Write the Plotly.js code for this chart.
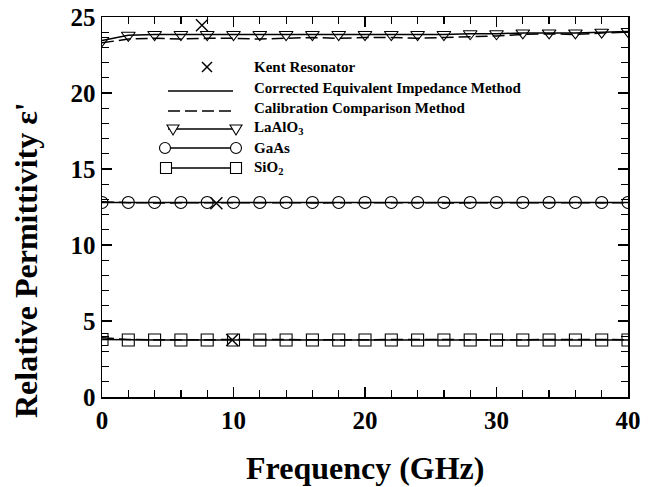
<!DOCTYPE html>
<html>
<head>
<meta charset="utf-8">
<script src="https://cdn.plot.ly/plotly-3.0.1.min.js"></script>
<style>html,body{margin:0;padding:0;background:#fff;}#chart{width:655px;height:487px;}</style>
</head>
<body>
<div id="chart"></div>
<script>
// Frequency points (GHz)
const freq = [0, 2, 4, 6, 8, 10, 12, 14, 16, 18, 20, 22, 24, 26, 28, 30, 32, 34, 36, 38, 40];
// LaAlO3
const laoCEM = [23.45, 23.8, 23.85, 23.85, 23.85, 23.85, 23.85, 23.85, 23.85, 23.85, 23.85, 23.85, 23.85, 23.85, 23.9, 23.9, 23.95, 23.95, 23.95, 24.0, 24.05];
const laoCCM = [23.3, 23.55, 23.6, 23.55, 23.6, 23.6, 23.55, 23.6, 23.65, 23.6, 23.65, 23.65, 23.6, 23.65, 23.7, 23.75, 23.85, 23.9, 23.85, 23.95, 24.0];
// GaAs
const gaasCEM = [12.8, 12.8, 12.8, 12.8, 12.8, 12.8, 12.8, 12.8, 12.8, 12.8, 12.8, 12.8, 12.8, 12.8, 12.8, 12.8, 12.8, 12.8, 12.8, 12.8, 12.8];
const gaasCCM = [12.85, 12.78, 12.77, 12.78, 12.77, 12.78, 12.77, 12.78, 12.77, 12.78, 12.78, 12.77, 12.78, 12.77, 12.78, 12.78, 12.77, 12.78, 12.78, 12.77, 12.78];
// SiO2
const sio2CEM = [3.78, 3.75, 3.75, 3.75, 3.75, 3.75, 3.75, 3.75, 3.75, 3.75, 3.75, 3.75, 3.75, 3.75, 3.75, 3.75, 3.75, 3.75, 3.75, 3.75, 3.75];
const sio2CCM = [3.9, 3.78, 3.77, 3.78, 3.77, 3.78, 3.77, 3.78, 3.77, 3.78, 3.77, 3.78, 3.77, 3.78, 3.77, 3.78, 3.77, 3.78, 3.77, 3.78, 3.77];
// Kent resonator
const kentFreq = [7.6, 8.7, 9.9];
const kentEps = [24.45, 12.75, 3.75];
// Labels
const xTitle = "Frequency (GHz)";
const yTitle = "Relative Permittivity ε'";
const legendLabels = ["Kent Resonator", "Corrected Equivalent Impedance Method", "Calibration Comparison Method", "LaAlO<sub>3</sub>", "GaAs", "SiO<sub>2</sub>"];

const FONT = "'Liberation Serif', 'Times New Roman', serif";
const dashStyle = "12px,5px";

function solid(y, sym) {
  return {x: freq, y: y, mode: 'lines+markers', showlegend: false,
    line: {color: 'black', width: 1.5},
    marker: {symbol: sym, size: 12, color: 'black', line: {width: 1.1}}};
}
function dashed(y) {
  return {x: freq, y: y, mode: 'lines', showlegend: false,
    line: {color: 'black', width: 1.5, dash: dashStyle}};
}
const traces = [
  dashed(laoCCM), solid(laoCEM, 'triangle-down-open'),
  dashed(gaasCCM), solid(gaasCEM, 'circle-open'),
  dashed(sio2CCM), solid(sio2CEM, 'square-open'),
  {x: kentFreq, y: kentEps, mode: 'markers', showlegend: false,
   marker: {symbol: 'x-thin', size: 12, color: 'black', line: {color: 'black', width: 1.4}}}
];

// plot area in pixels
const L = 102, R = 628, T = 17, B = 397;
const px = p => (p - L) / (R - L);
const py = p => (B - p) / (B - T);

const rows = [67, 88, 108, 128, 148, 168];
const shapes = [];
const annotations = [];
const lineX0 = 168, lineX1 = 236, symX = 207, textX = 252;

function seg(x0, y0, x1, y1, dash) {
  shapes.push({type: 'line', xref: 'paper', yref: 'paper', x0: px(x0), y0: py(y0), x1: px(x1), y1: py(y1),
    line: {color: 'black', width: 1.5, dash: dash || 'solid'}});
}
function pathShape(pts) {
  const d = pts.map((p, i) => (i ? 'L' : 'M') + px(p[0]) + ',' + py(p[1])).join(' ') + ' Z';
  shapes.push({type: 'path', xref: 'paper', yref: 'paper', path: d, line: {color: 'black', width: 1.1}, fillcolor: 'white'});
}
function tri(cx, cy) { pathShape([[cx - 6, cy - 4], [cx + 6, cy - 4], [cx, cy + 6]]); }
function sq(cx, cy) { pathShape([[cx - 5.5, cy - 5.5], [cx + 5.5, cy - 5.5], [cx + 5.5, cy + 5.5], [cx - 5.5, cy + 5.5]]); }
function circ(cx, cy) {
  shapes.push({type: 'circle', xref: 'paper', yref: 'paper', x0: px(cx - 5.5), x1: px(cx + 5.5), y0: py(cy + 5.5), y1: py(cy - 5.5),
    line: {color: 'black', width: 1.1}, fillcolor: 'white'});
}
// Kent X
seg(symX - 5, rows[0] - 5, symX + 5, rows[0] + 5);
seg(symX - 5, rows[0] + 5, symX + 5, rows[0] - 5);
// solid / dashed samples
seg(lineX0, rows[1] + 3, lineX1 - 3, rows[1] + 3);
seg(lineX0, rows[2] + 3, lineX1 - 3, rows[2] + 3, dashStyle);
// material samples
seg(lineX0, rows[3] + 1, lineX1, rows[3] + 1); tri(lineX0 + 5, rows[3] + 1); tri(lineX1, rows[3] + 1);
seg(lineX0, rows[4], lineX1, rows[4]); circ(lineX0 - 3, rows[4]); circ(lineX1, rows[4]);
seg(lineX0, rows[5], lineX1, rows[5]); sq(lineX0 - 2, rows[5]); sq(lineX1, rows[5]);

legendLabels.forEach((t, i) => {
  annotations.push({text: t, xref: 'paper', yref: 'paper', x: px(textX), y: py(rows[i]), xanchor: 'left', yanchor: 'middle',
    showarrow: false, font: {family: FONT, size: 15, color: 'black', weight: 'bold'}});
});
annotations.push({text: yTitle, xref: 'paper', yref: 'paper', x: px(26), y: py(260), xanchor: 'center', yanchor: 'middle',
  textangle: -90, showarrow: false, font: {family: FONT, size: 32, color: 'black', weight: 'bold'}});
annotations.push({text: xTitle, xref: 'paper', yref: 'paper', x: px(365), y: py(468), xanchor: 'center', yanchor: 'middle',
  showarrow: false, font: {family: FONT, size: 32, color: 'black', weight: 'bold'}});

const axisCommon = {
  showgrid: false, zeroline: false, showline: true, linecolor: 'black', linewidth: 1.5,
  ticks: 'inside', ticklen: 10, tickwidth: 1.3, tickcolor: 'black', mirror: 'allticks',
  tickfont: {family: FONT, size: 25, color: 'black', weight: 'bold'}
};
const layout = {
  width: 655, height: 487,
  margin: {l: L, r: 655 - R, t: T, b: 487 - B},
  paper_bgcolor: 'white', plot_bgcolor: 'white',
  xaxis: Object.assign({}, axisCommon, {range: [0, 40], dtick: 10, tick0: 0,
    minor: {dtick: 2, ticks: 'inside', ticklen: 7, tickwidth: 1.2, tickcolor: 'black', showgrid: false}}),
  yaxis: Object.assign({}, axisCommon, {range: [0, 25], dtick: 5, tick0: 0,
    minor: {dtick: 1, ticks: 'inside', ticklen: 7, tickwidth: 1.2, tickcolor: 'black', showgrid: false}}),
  shapes: shapes, annotations: annotations, showlegend: false
};
Plotly.newPlot('chart', traces, layout, {displayModeBar: false, staticPlot: true});
</script>
</body>
</html>
